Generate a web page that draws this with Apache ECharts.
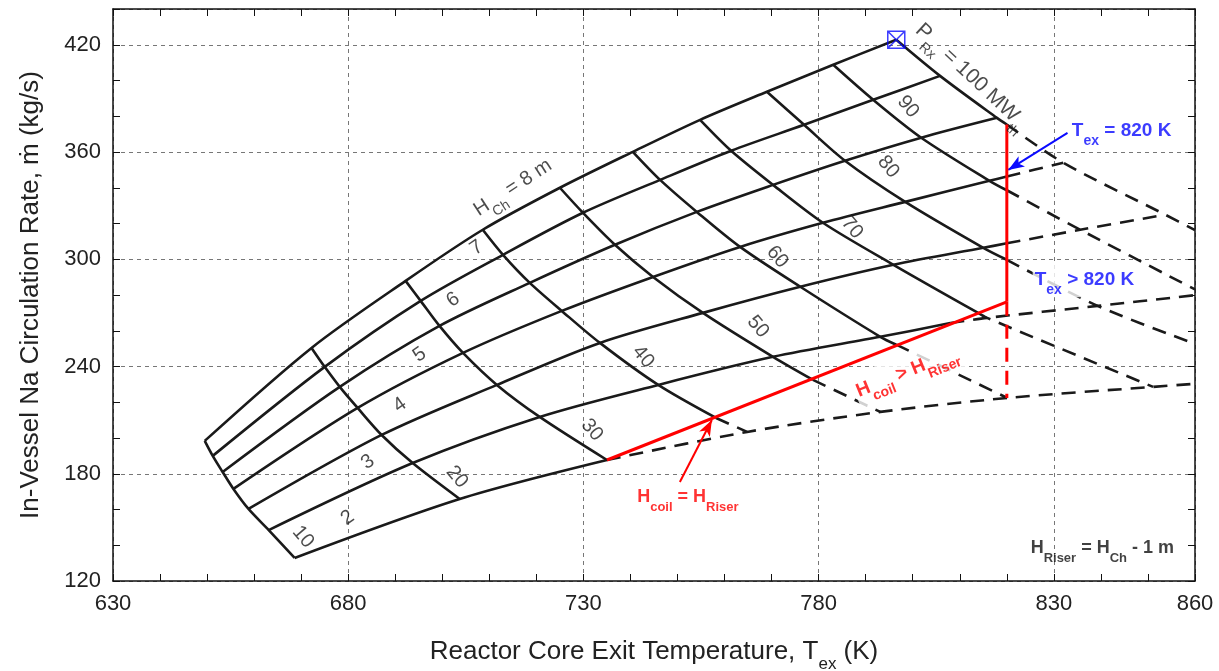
<!DOCTYPE html>
<html><head><meta charset="utf-8">
<script src="https://cdn.jsdelivr.net/npm/echarts@6/dist/echarts.min.js"></script>
<style>html,body{margin:0;padding:0;background:#fff}#c{width:1219px;height:671px}</style>
</head><body><div id="c"></div>
<script>
const FONT = '"Liberation Sans", Arial, Helvetica, sans-serif';

// ---- data (T in K, m-dot in kg/s) ----
const P_LEVELS = [10, 20, 30, 40, 50, 60, 70, 80, 90, 100];   // reactor power, MWth
const H_LEVELS = [8, 7, 6, 5, 4, 3, 2];                       // channel height, m
// grid nodes: each H curve, one node per power level
const T_H8 = [649.5, 672.2, 692.2, 708.6, 725.0, 740.5, 754.8, 769.0, 783.1, 796.5];
const M_H8 = [198.4, 250.4, 287.9, 316.5, 340.0, 360.1, 378.0, 393.7, 408.8, 422.8];
const T_H7 = [651.2, 675.0, 695.4, 712.9, 729.9, 746.3, 761.4, 776.9, 791.6, 805.8];
const M_H7 = [190.0, 239.8, 276.7, 302.5, 326.0, 344.4, 360.7, 375.2, 389.2, 402.6];
const T_H6 = [653.3, 678.2, 699.4, 718.6, 736.7, 754.1, 770.3, 785.6, 801.8, 817.9];
const M_H6 = [181.0, 228.6, 262.7, 286.8, 308.1, 326.5, 341.6, 355.1, 368.0, 379.1];
const T_H5 = [655.6, 682.0, 704.4, 725.4, 744.8, 763.3, 780.9, 798.4, 816.3, 832.0];
const M_H5 = [171.5, 216.8, 247.6, 271.1, 290.1, 306.9, 320.4, 332.1, 343.9, 354.0];
const T_H4 = [658.8, 687.1, 711.6, 733.5, 755.4, 776.1, 795.9, 815.0, 835.6, 853.7];
const M_H4 = [160.3, 201.7, 229.7, 253.2, 270.0, 284.6, 296.9, 306.4, 316.5, 324.9];
const T_H3 = [663.1, 693.7, 720.7, 745.9, 770.3, 793.1, 815.8, 839.3];
const M_H3 = [148.5, 186.0, 211.8, 229.7, 245.4, 256.6, 267.2, 273.9];
const T_H2 = [668.6, 703.7, 735.0, 764.8, 793.1, 820.1, 851.1];
const M_H2 = [132.9, 165.9, 187.7, 203.4, 214.6, 222.4, 228.6];

// where each constant-H curve leaves the valid (solid) region
const H_SPLIT = {
  8: { lastP: 100 }, 7: { lastP: 100 }, 6: { lastP: 100 },
  5: { lastP: 90, cut: [820.0, 346.3], dashP: [100] },
  4: { lastP: 80, cut: [820.0, 308.9], dashP: [90, 100] },
  3: { lastP: 60, cut: [808.0, 264.3], dashP: [70, 80], edge: [860, 279.9] },
  2: { lastP: 30, dashP: [40, 50, 60, 70], edge: [860, 230.3] }
};
// where each constant-P curve leaves the valid (solid) region
const P_SPLIT = {
  10: { lastH: 2 }, 20: { lastH: 2 }, 30: { lastH: 2 },
  40: { lastH: 3, cut: [758.2, 211.2], dashH: [2] },
  50: { lastH: 3, cut: [778.8, 232.5], dashH: [2] },
  60: { lastH: 3, cut: [796.5, 252.2], dashH: [2] },
  70: { lastH: 4, cut: [813.9, 270.0], dashH: [3, 2] },
  80: { lastH: 4, cut: [820.0, 299.7], dashH: [3], edge: [860, 252.7] },
  90: { lastH: 5, cut: [820.0, 338.6], dashH: [4], edge: [860, 283.1] },
  100: { lastH: 6, cut: [820.0, 375.4], dashH: [5, 4], edge: [860, 316.3] }
};

// limit lines
const RED_DIAG_T = [735.0, 820.0];
const RED_DIAG_M = [187.7, 276.2];
const T_LIMIT = 820;
const RED_VERT_SOLID_M = [375.4, 276.2];
const RED_VERT_DASH_M = [276.2, 222.4];
// annotation arrows [from, to]
const ARROW_BLUE = [[832.9, 370.7], [820.3, 350.0]];
const ARROW_RED = [[750.5, 175.4], [757.3, 210.1]];

// curve labels
const H_LABEL_TEXT = ['2', '3', '4', '5', '6', '7'];
const H_LABEL_T = [679.9, 684.2, 691.0, 695.2, 702.3, 707.3];
const H_LABEL_M = [155.3, 186.6, 218.5, 246.5, 277.3, 306.4];
const P_LABEL_TEXT = ['10', '20', '30', '40', '50', '60', '70', '80', '90'];
const P_LABEL_T = [670.4, 703.1, 731.8, 742.7, 767.1, 771.2, 787.1, 794.8, 799.0];
const P_LABEL_M = [144.6, 178.2, 204.5, 245.4, 262.2, 301.3, 317.6, 351.7, 385.3];

// axis tick labels
const X_TICK_LABELS = [630, 680, 730, 780, 830, 860];
const Y_TICK_LABELS = [120, 180, 240, 300, 360, 420];

// ---- build ----
const GRID = { 8: [T_H8, M_H8], 7: [T_H7, M_H7], 6: [T_H6, M_H6], 5: [T_H5, M_H5], 4: [T_H4, M_H4], 3: [T_H3, M_H3], 2: [T_H2, M_H2] };
const nodeAt = (h, p) => { const i = P_LEVELS.indexOf(p); return [GRID[h][0][i], GRID[h][1][i]]; };

const BLACK = '#1a1a1a';
const BLUE = '#0a0aff';
const RED = '#ff0000';
const DASH = [14, 9];
const series = [];
function addLine(pts, dashed, color, width) {
  series.push({
    type: 'line', data: pts, symbol: 'none', smooth: 0.3, silent: true,
    lineStyle: { color: color || BLACK, width: width || 2.6, type: dashed ? DASH : 'solid' },
    z: 3
  });
}
H_LEVELS.forEach(h => {
  const s = H_SPLIT[h];
  const solid = P_LEVELS.filter(p => p <= s.lastP).map(p => nodeAt(h, p));
  if (s.cut) solid.push(s.cut);
  addLine(solid, false);
  if (s.dashP) {
    const d = [solid[solid.length - 1]].concat(s.dashP.map(p => nodeAt(h, p)));
    if (s.edge) d.push(s.edge);
    addLine(d, true);
  }
});
P_LEVELS.forEach(p => {
  const s = P_SPLIT[p];
  const solid = H_LEVELS.filter(h => h >= s.lastH).map(h => nodeAt(h, p));
  if (s.cut) solid.push(s.cut);
  addLine(solid, false);
  if (s.dashH) {
    const d = [solid[solid.length - 1]].concat(s.dashH.map(h => nodeAt(h, p)));
    if (s.edge) d.push(s.edge);
    addLine(d, true);
  }
});
// red limits
series.push({ type: 'line', data: RED_DIAG_T.map((t, i) => [t, RED_DIAG_M[i]]), symbol: 'none', silent: true,
  lineStyle: { color: RED, width: 3 }, z: 5 });
series.push({ type: 'line', data: RED_VERT_SOLID_M.map(m => [T_LIMIT, m]), symbol: 'none', silent: true,
  lineStyle: { color: RED, width: 3 }, z: 5 });
series.push({ type: 'line', data: RED_VERT_DASH_M.map(m => [T_LIMIT, m]), symbol: 'none', silent: true,
  lineStyle: { color: RED, width: 3, type: DASH }, z: 5 });
// design point marker
series.push({ type: 'scatter', data: [nodeAt(8, 100)], silent: true, z: 6,
  symbol: 'path://M0,0L20,0L20,20L0,20Z M0,0L20,20 M20,0L0,20', symbolSize: 17,
  itemStyle: { color: 'rgba(0,0,0,0)', borderColor: BLUE, borderWidth: 1.5 } });
// arrows
function arrow(a, color) {
  series.push({ type: 'line', data: [], silent: true, z: 6,
    markLine: { silent: true, animation: false, symbol: ['none', 'arrow'], symbolSize: [9, 16],
      label: { show: false }, lineStyle: { color: color, width: 2, type: 'solid' },
      data: [[{ coord: a[0] }, { coord: a[1] }]] } });
}
arrow(ARROW_BLUE, BLUE);
arrow(ARROW_RED, RED);

// labels
function lab(text, t, m, opt) {
  const F = opt.size, f = opt.sub || Math.round(F * 0.7);
  const L = Math.round(2 * (opt.drop == null ? 4 : opt.drop) + f + 0.7 * F);
  const color = opt.color || '#1e1e1e', weight = opt.weight || 'normal';
  const label = { show: true, position: 'inside', formatter: text, rotate: opt.rot || 0,
    fontSize: F, lineHeight: L, color: color, fontWeight: weight, fontFamily: FONT,
    rich: { s: { fontSize: f, color: color, fontWeight: weight, fontFamily: FONT, verticalAlign: 'bottom', lineHeight: f } } };
  if (opt.bg) { label.backgroundColor = '#fff'; label.padding = [0, 2]; }
  return { value: [t, m], label: label };
}
const labels = [];
H_LABEL_TEXT.forEach((tx, i) => labels.push(lab(tx, H_LABEL_T[i], H_LABEL_M[i], { size: 20, rot: 35 })));
P_LABEL_TEXT.forEach((tx, i) => labels.push(lab(tx, P_LABEL_T[i], P_LABEL_M[i], { size: 20, rot: -50 })));
labels.push(lab('H{s|Ch} = 8 m', 715.0, 340.0, { size: 20, rot: 33, sub: 14 }));
labels.push(lab('P{s|Rx} = 100 MW{s|th}', 812.5, 402.1, { size: 21, rot: -43, sub: 14 }));
labels.push(lab('T{s|ex} = 820 K', 844.4, 371.9, { size: 19, color: BLUE, weight: 'bold', sub: 14 }));
labels.push(lab('T{s|ex} > 820 K', 836.5, 288.5, { size: 19, color: BLUE, weight: 'bold', sub: 14, bg: true }));
labels.push(lab('H{s|coil} > H{s|Riser}', 798.8, 237.0, { size: 19, color: RED, weight: 'bold', sub: 14, rot: 22, bg: true }));
labels.push(lab('H{s|coil} = H{s|Riser}', 752.2, 167.0, { size: 18, color: RED, weight: 'bold', sub: 13 }));
labels.push(lab('H{s|Riser} = H{s|Ch} - 1 m', 840.3, 138.5, { size: 18, color: '#111', weight: 'bold', sub: 13 }));
series.push({ type: 'scatter', data: labels, symbolSize: 1, silent: true, z: 8,
  itemStyle: { color: 'rgba(0,0,0,0)' } });

const axisLine = { show: true, onZero: false, lineStyle: { color: '#111', width: 1.5 } };
const tick = { show: true, inside: true, length: 7, lineStyle: { color: '#111', width: 1 } };
const grid = { color: '#777', width: 1, type: [4, 4] };

const option = {
  animation: false,
  backgroundColor: '#fff',
  grid: { left: 113, right: 24, top: 9, bottom: 90, containLabel: false, outerBoundsMode: 'none' },
  xAxis: [
    { type: 'value', min: 630, max: 860, interval: 10, position: 'bottom', axisLine, axisTick: tick,
      splitLine: { show: false },
      axisLabel: { fontSize: 22, color: '#222', margin: 12, fontFamily: FONT, showMinLabel: true, showMaxLabel: true,
        formatter: v => X_TICK_LABELS.includes(v) ? String(v) : '' },
      name: 'Reactor Core Exit Temperature, T{s|ex} (K)', nameLocation: 'middle', nameGap: 49,
      nameTextStyle: { fontSize: 26, color: '#222', fontFamily: FONT, lineHeight: 43,
        rich: { s: { fontSize: 17, color: '#222', fontFamily: FONT, verticalAlign: 'bottom', lineHeight: 17 } } } },
    { type: 'value', min: 630, max: 860, interval: 10, position: 'top', axisLine, axisTick: tick,
      axisLabel: { show: false }, splitLine: { show: false } },
    { type: 'value', min: 630, max: 860, interval: 50, position: 'bottom', axisLine: { show: false },
      axisTick: { show: false }, axisLabel: { show: false }, splitLine: { show: true, lineStyle: grid } }
  ],
  yAxis: [
    { type: 'value', min: 120, max: 440, interval: 20, position: 'left', axisLine, axisTick: tick,
      splitLine: { show: false },
      axisLabel: { fontSize: 22, color: '#222', margin: 12, fontFamily: FONT,
        formatter: v => Y_TICK_LABELS.includes(v) ? String(v) : '' },
      name: 'In-Vessel Na Circulation Rate, ṁ (kg/s)', nameLocation: 'middle', nameGap: 69, nameRotate: 90,
      nameTextStyle: { fontSize: 26, color: '#222', fontFamily: FONT } },
    { type: 'value', min: 120, max: 440, interval: 20, position: 'right', axisLine, axisTick: tick,
      axisLabel: { show: false }, splitLine: { show: false } },
    { type: 'value', min: 120, max: 440, interval: 60, position: 'left', axisLine: { show: false },
      axisTick: { show: false }, axisLabel: { show: false }, splitLine: { show: true, lineStyle: grid } }
  ],
  series: series
};
const chart = echarts.init(document.getElementById('c'), null, { renderer: 'canvas' });
chart.setOption(option);
</script>
</body></html>
